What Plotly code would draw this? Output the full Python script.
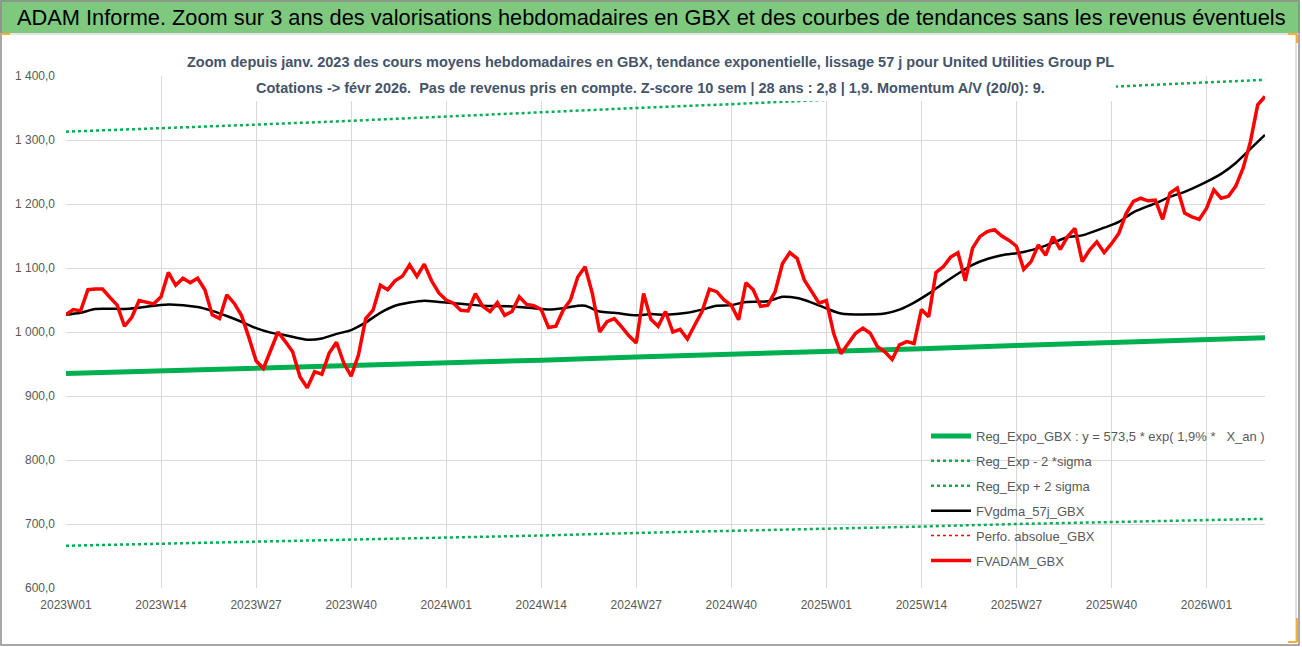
import plotly.graph_objects as go

# week categories 2023W01 .. 2026W09 (ISO years 2023-2025 have 52 weeks)
weeks = ([f"2023W{w:02d}" for w in range(1, 53)] + [f"2024W{w:02d}" for w in range(1, 53)]
         + [f"2025W{w:02d}" for w in range(1, 53)] + [f"2026W{w:02d}" for w in range(1, 10)])
tick_weeks = weeks[::13]

# FVADAM_GBX, weekly mean price
fvadam = [1027, 1035, 1033, 1066, 1067, 1067, 1054, 1042, 1009, 1023,
          1049, 1047, 1044, 1055, 1093, 1073, 1084, 1077, 1084, 1066,
          1027, 1021, 1058, 1045, 1026, 992, 955, 943, 972, 1000,
          985, 969, 930, 913, 938, 934, 967, 984, 951, 931,
          964, 1021, 1034, 1073, 1066, 1080, 1087, 1105, 1087, 1106,
          1080, 1061, 1050, 1045, 1034, 1033, 1060, 1040, 1032, 1046,
          1026, 1032, 1055, 1043, 1041, 1035, 1007, 1009, 1034, 1050,
          1086, 1102, 1060, 1000, 1016, 1021, 1008, 994, 983, 1060,
          1020, 1009, 1032, 1000, 1004, 989, 1011, 1032, 1067, 1063,
          1050, 1042, 1019, 1077, 1066, 1040, 1042, 1063, 1107, 1124,
          1115, 1081, 1063, 1045, 1049, 998, 966, 981, 998, 1006,
          998, 977, 969, 957, 980, 985, 982, 1035, 1024, 1093,
          1102, 1117, 1124, 1080, 1131, 1149, 1157, 1160, 1150, 1143,
          1134, 1098, 1110, 1136, 1120, 1149, 1129, 1149, 1162, 1110,
          1128, 1141, 1124, 1138, 1154, 1185, 1204, 1209, 1205, 1206,
          1176, 1217, 1225, 1186, 1180, 1176, 1193, 1222, 1209, 1212,
          1228, 1256, 1297, 1355, 1368]

# FVgdma_57j_GBX smoothed line, sampled weeks
gdma_idx = [0, 2, 4, 8, 10, 14, 18, 20, 22, 24, 26, 28, 30, 33, 35, 37, 39, 41, 43, 45,
            47, 49, 51, 53, 55, 57, 61, 64, 66, 68, 70, 71, 73, 75, 78, 80, 82, 85, 87, 89,
            91, 93, 96, 98, 100, 102, 104, 106, 112, 114, 116, 118, 120, 122, 124, 126, 128, 131, 134, 137,
            139, 142, 144, 146, 149, 151, 153, 155, 158, 160, 162, 164]
gdma_val = [1027, 1030, 1036, 1036, 1038, 1043, 1039, 1033, 1025, 1016, 1006, 999, 995, 988, 990, 997, 1003, 1015, 1030, 1041,
            1046, 1049, 1047, 1045, 1043, 1041, 1040, 1037, 1035, 1037, 1041, 1041, 1032, 1030, 1026, 1028, 1027, 1030, 1035, 1041,
            1042, 1047, 1048, 1055, 1053, 1046, 1037, 1029, 1029, 1035, 1046, 1060, 1076, 1091, 1105, 1114, 1120, 1125, 1135, 1148,
            1151, 1163, 1172, 1187, 1201, 1211, 1219, 1229, 1247, 1264, 1286, 1308]

# regression line and +/- 2 sigma band, read every 13 weeks
reg_idx = [0, 13, 26, 39, 52, 65, 78, 91, 104, 117, 130, 143, 156, 164]
reg_expo = [935, 939, 943, 948, 952, 956, 961, 965, 970, 974, 979, 983, 988, 991]
reg_minus = [666, 669, 672, 676, 679, 682, 686, 689, 693, 696, 700, 703, 706, 708]
reg_plus = [1313, 1318, 1324, 1330, 1337, 1343, 1350, 1356, 1363, 1370, 1377, 1384, 1390, 1394]

y_ticks = [600, 700, 800, 900, 1000, 1100, 1200, 1300, 1400]
y_labels = [f"{v:,.1f}".replace(",", " ").replace(".", ",") for v in y_ticks]

W, H = 1302, 647
L, R, T, B = 66, 37, 76, 59

def px(x):
    return (x - L) / (W - L - R)

def py(y):
    return (H - B - y) / (H - T - B)

FONT = "Liberation Sans, Arial, sans-serif"
GREEN = "#00b050"

fig = go.Figure()

fig.add_trace(go.Scatter(x=[weeks[i] for i in reg_idx], y=reg_expo, mode="lines",
                         name="Reg_Expo_GBX : y = 573,5 * exp( 1,9% *   X_an )",
                         line=dict(color=GREEN, width=5), legendgroup="a"))
fig.add_trace(go.Scatter(x=[weeks[i] for i in reg_idx], y=reg_minus, mode="lines",
                         name="Reg_Exp - 2 *sigma",
                         line=dict(color=GREEN, width=2.5, dash="dot"), legendgroup="b"))
fig.add_trace(go.Scatter(x=[weeks[i] for i in reg_idx], y=reg_plus, mode="lines",
                         name="Reg_Exp + 2 sigma",
                         line=dict(color=GREEN, width=2.5, dash="dot"), legendgroup="c"))
fig.add_trace(go.Scatter(x=[weeks[i] for i in gdma_idx], y=gdma_val, mode="lines",
                         name="FVgdma_57j_GBX", line=dict(color="black", width=2.5, shape="spline", smoothing=0.8),
                         legendgroup="d"))
fig.add_trace(go.Scatter(x=[weeks[0]], y=[None], mode="lines", name="Perfo. absolue_GBX",
                         line=dict(color="#ff0000", width=1.5, dash="dot"), legendgroup="e"))
fig.add_trace(go.Scatter(x=weeks, y=fvadam, mode="lines", name="FVADAM_GBX",
                         line=dict(color="#ff0000", width=3.5), legendgroup="f"))

fig.update_layout(
    width=W, height=H,
    margin=dict(l=L, r=R, t=T, b=B),
    paper_bgcolor="white", plot_bgcolor="white",
    font=dict(family=FONT, color="#595959", size=12),
    showlegend=True,
    legend=dict(x=px(926), y=py(421), xanchor="left", yanchor="top",
                bgcolor="rgba(0,0,0,0)", font=dict(size=13, color="#595959"),
                tracegroupgap=5, itemwidth=40),
    xaxis=dict(type="category", categoryorder="array", categoryarray=weeks,
               range=[0, len(weeks) - 1], tickvals=tick_weeks, ticktext=tick_weeks,
               showgrid=True, gridcolor="#d9d9d9", gridwidth=1, zeroline=False,
               showline=False, ticks="", ticklabelstandoff=8,
               tickfont=dict(size=12, color="#595959")),
    yaxis=dict(range=[600, 1400], tickvals=y_ticks, ticktext=y_labels,
               showgrid=True, gridcolor="#d9d9d9", gridwidth=1, zeroline=False,
               showline=False, ticks="", ticklabelstandoff=10,
               tickfont=dict(size=12, color="#595959")),
)

shapes = [
    # top title bar
    dict(type="rect", xref="paper", yref="paper", x0=px(0), x1=px(W - 2), y0=py(33), y1=py(0),
         fillcolor="#7fc97f", line=dict(width=0), layer="below"),
    # subtitle box (white fill over the plot)
    dict(type="rect", xref="paper", yref="paper", x0=px(181), x1=px(1116), y0=py(101), y1=py(44),
         fillcolor="white", line=dict(width=0), layer="above"),
    # outer frame
    dict(type="rect", xref="paper", yref="paper", x0=px(1), x1=px(W - 3), y0=py(H - 2), y1=py(1),
         line=dict(color="#8c8c8c", width=1.5)),
    dict(type="line", xref="paper", yref="paper", x0=px(1), x1=px(W - 3), y0=py(34), y1=py(34),
         line=dict(color="#c8c8c8", width=1)),
    # chart area right border
    dict(type="line", xref="paper", yref="paper", x0=px(1296), x1=px(1296), y0=py(642), y1=py(34),
         line=dict(color="#bfbfbf", width=1)),
    # orange selection corners
    dict(type="line", xref="paper", yref="paper", x0=px(1), x1=px(10), y0=py(34), y1=py(34),
         line=dict(color="#f2b134", width=2)),
    dict(type="line", xref="paper", yref="paper", x0=px(1288), x1=px(1297), y0=py(34), y1=py(34),
         line=dict(color="#f2b134", width=2)),
    dict(type="line", xref="paper", yref="paper", x0=px(1297), x1=px(1297), y0=py(34), y1=py(43),
         line=dict(color="#f2b134", width=2)),
    dict(type="line", xref="paper", yref="paper", x0=px(1297), x1=px(1297), y0=py(618), y1=py(642),
         line=dict(color="#f2b134", width=2)),
    dict(type="line", xref="paper", yref="paper", x0=px(1288), x1=px(1297), y0=py(642), y1=py(642),
         line=dict(color="#f2b134", width=2)),
]
fig.update_layout(shapes=shapes)

fig.add_annotation(xref="paper", yref="paper", x=px(15), y=py(17), xanchor="left", yanchor="middle",
                   text="ADAM Informe. Zoom sur 3 ans des valorisations hebdomadaires en GBX et des courbes de tendances sans les revenus éventuels",
                   showarrow=False, font=dict(family=FONT, size=21.8, color="black"))
fig.add_annotation(xref="paper", yref="paper", x=px(650), y=py(62), xanchor="center", yanchor="middle",
                   text="<b>Zoom depuis janv. 2023 des cours moyens hebdomadaires en GBX, tendance exponentielle, lissage 57 j pour United Utilities Group PL</b>",
                   showarrow=False, font=dict(family=FONT, size=14.5, color="#44546a"))
fig.add_annotation(xref="paper", yref="paper", x=px(650), y=py(88), xanchor="center", yanchor="middle",
                   text="<b>Cotations -> févr 2026.  Pas de revenus pris en compte. Z-score 10 sem | 28 ans : 2,8 | 1,9. Momentum A/V (20/0): 9.</b>",
                   showarrow=False, font=dict(family=FONT, size=14.5, color="#44546a"))

fig.write_html("out.html", config={"displayModeBar": False},
               post_script="document.body.style.margin='0';")
